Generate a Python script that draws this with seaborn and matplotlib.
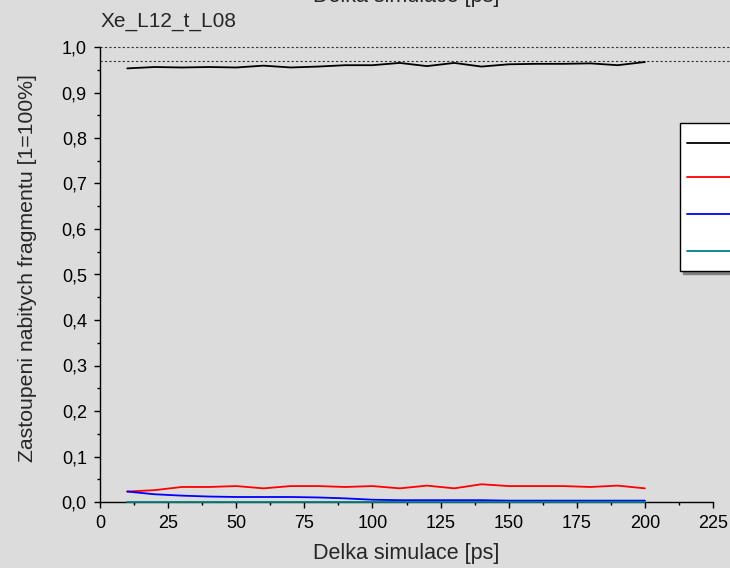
import numpy as np
import pandas as pd
import matplotlib
matplotlib.use("Agg")
import matplotlib.pyplot as plt
from matplotlib.ticker import MultipleLocator, FuncFormatter
import seaborn as sns

# ---- data ----
time_ps = [10, 20, 30, 40, 50, 60, 70, 80, 90, 100,
           110, 120, 130, 140, 150, 160, 170, 180, 190, 200]
series_names = ["Xe$^{+}$", "Xe$_{2}^{+}$", "Xe$_{3}^{+}$", "Xe$_{4}^{+}$"]
s1 = [0.953, 0.956, 0.955, 0.956, 0.955, 0.959, 0.955, 0.957, 0.960, 0.960,
      0.965, 0.958, 0.965, 0.957, 0.962, 0.963, 0.963, 0.964, 0.960, 0.967]
s2 = [0.023, 0.026, 0.033, 0.033, 0.035, 0.030, 0.035, 0.035, 0.033, 0.035,
      0.030, 0.036, 0.030, 0.039, 0.035, 0.035, 0.035, 0.033, 0.036, 0.030]
s3 = [0.023, 0.017, 0.014, 0.012, 0.011, 0.011, 0.011, 0.010, 0.008, 0.005,
      0.004, 0.004, 0.004, 0.004, 0.003, 0.003, 0.003, 0.003, 0.003, 0.003]
s4 = [0.0] * 20
ref_levels = [1.0, 0.97]
colors = ["#000000", "#ff0000", "#0000ff", "#008080"]

title = "Xe_L12_t_L08"
xlabel = "Delka simulace [ps]"
ylabel = "Zastoupeni nabitych fragmentu [1=100%]"

df = pd.DataFrame({
    "t": time_ps * 4,
    "v": s1 + s2 + s3 + s4,
    "series": sum([[n] * len(time_ps) for n in series_names], []),
})

sns.set_style("ticks")
bg = "#dcdcdc"
plt.rcParams["font.family"] = ["Liberation Sans", "DejaVu Sans"]

fig = plt.figure(figsize=(7.3, 5.68), dpi=100, facecolor=bg)
ax = fig.add_axes([100 / 730, 1 - 502 / 568, 613 / 730, 455 / 568])
ax.set_facecolor(bg)

sns.lineplot(data=df, x="t", y="v", hue="series", palette=colors,
             hue_order=series_names, linewidth=1.3, ax=ax, legend=True)
for ln in ax.lines:
    ln.set_clip_on(False)
    ln.set_zorder(5)

for lv in ref_levels:
    ax.axhline(lv, xmin=0, xmax=(730 - 100) / 613, color="#333333",
               linewidth=0.8, linestyle=(0, (2, 2)), clip_on=False, zorder=3)

ax.set_xlim(0, 225)
ax.set_ylim(0, 1.0)
ax.xaxis.set_major_locator(MultipleLocator(25))
ax.xaxis.set_minor_locator(MultipleLocator(12.5))
ax.yaxis.set_major_locator(MultipleLocator(0.1))
ax.yaxis.set_minor_locator(MultipleLocator(0.05))
ax.yaxis.set_major_formatter(FuncFormatter(lambda v, p: f"{v:.1f}".replace(".", ",")))

for s in ["top", "right"]:
    ax.spines[s].set_visible(False)
for s in ["left", "bottom"]:
    ax.spines[s].set_linewidth(1.0)
    ax.spines[s].set_color("black")

ax.tick_params(which="major", direction="out", length=4.5, width=1.0,
               labelsize=13, colors="black", pad=5)
ax.tick_params(which="minor", direction="out", length=2.5, width=1.0, colors="black")

ax.set_xlabel(xlabel, fontsize=15.5, labelpad=8)
ax.set_ylabel(ylabel, fontsize=15.3)
ax.yaxis.set_label_coords(-0.103, 0.515)

fig.text(101 / 730, 1 - 27 / 568, title, fontsize=15, ha="left", va="baseline")
fig.text(406 / 730, 1 - 2 / 568, xlabel, fontsize=15.5, ha="center", va="baseline")

handles, labels = ax.get_legend_handles_labels()
leg = ax.legend(handles, labels, loc="upper left",
                bbox_to_anchor=(680 / 730, 1 - 123 / 568),
                bbox_transform=fig.transFigure, fontsize=14,
                borderpad=0.35, handleheight=1.5, labelspacing=0.52,
                handlelength=3.2, handletextpad=0.5, borderaxespad=0,
                fancybox=False, frameon=True,
                shadow={"color": "#808080", "alpha": 1})
leg.get_frame().set_edgecolor("black")
leg.get_frame().set_facecolor("white")
leg.get_frame().set_alpha(1)
leg.get_frame().set_linewidth(1.0)
for h in leg.get_lines():
    h.set_linewidth(1.3)
    h.set_ydata(np.asarray(h.get_ydata()) - 2.9)

fig.savefig("out.png", dpi=100, facecolor=bg)
